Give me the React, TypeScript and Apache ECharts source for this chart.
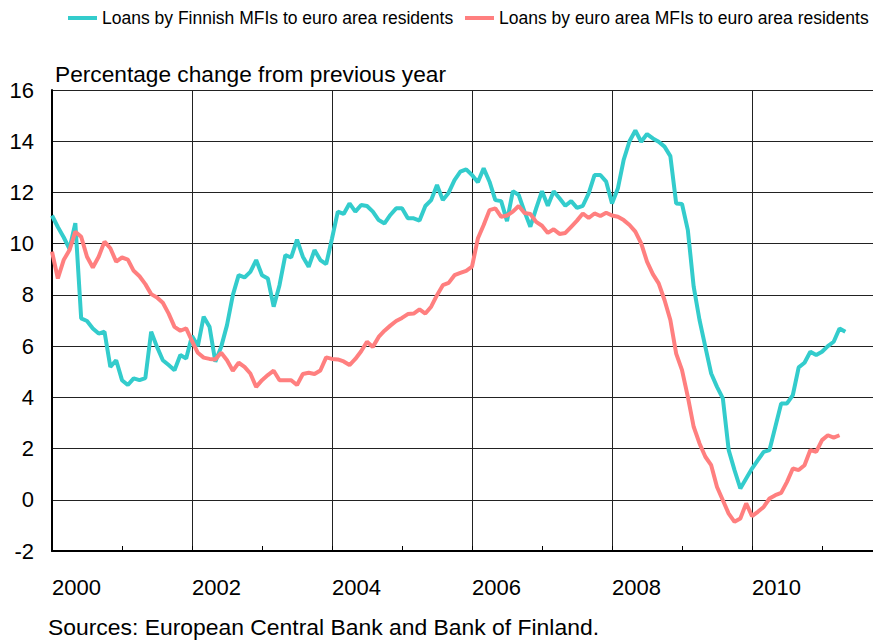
import { useEffect, useRef } from 'react';
import * as echarts from 'echarts';

// x index = months since Dec 1999 (0 = Dec 1999, 1 = Jan 2000, ...)
const yearLabels = ['2000', '2002', '2004', '2006', '2008', '2010'];
const seriesNames = [
  'Loans by Finnish MFIs to euro area residents',
  'Loans by euro area MFIs to euro area residents',
];
const axisTitle = 'Percentage change from previous year';
const sourceNote = 'Sources: European Central Bank and Bank of Finland.';

const finnishLoans = [
  11.1, 10.65, 10.25, 9.8, 10.8, 7.08, 6.98, 6.69, 6.49, 6.56, 5.19, 5.45,
  4.67, 4.48, 4.74, 4.67, 4.75, 6.56, 5.97, 5.45, 5.26, 5.06, 5.65, 5.52,
  6.39, 6.0, 7.15, 6.76, 5.39, 5.97, 6.82, 7.99, 8.77, 8.68, 8.9, 9.36,
  8.77, 8.64, 7.54, 8.38, 9.55, 9.46, 10.16, 9.49, 9.1, 9.75, 9.36, 9.2,
  10.2, 11.25, 11.16, 11.57, 11.25, 11.51, 11.47, 11.25, 10.92, 10.79, 11.12, 11.38,
  11.38, 10.99, 10.99, 10.9, 11.47, 11.7, 12.29, 11.7, 11.99, 12.48, 12.81, 12.9,
  12.68, 12.4, 12.94, 12.42, 11.7, 11.66, 10.88, 12.05, 11.9, 11.25, 10.66, 11.38,
  12.05, 11.48, 12.05, 11.77, 11.48, 11.66, 11.4, 11.48, 11.96, 12.68, 12.68, 12.42,
  11.57, 12.15, 13.27, 14.0, 14.42, 13.98, 14.28, 14.11, 13.98, 13.79, 13.42, 11.57,
  11.55, 10.53, 8.32, 7.02, 5.97, 4.93, 4.41, 3.96, 1.94, 1.16, 0.44, 0.83,
  1.22, 1.55, 1.87, 1.94, 2.85, 3.76, 3.76, 4.09, 5.17, 5.35, 5.78, 5.65,
  5.78, 6.0, 6.17, 6.69, 6.56,
];

const euroAreaLoans = [
  9.69, 8.64, 9.36, 9.75, 10.47, 10.27, 9.49, 9.07, 9.49, 10.08, 9.82, 9.3,
  9.46, 9.38, 8.94, 8.73, 8.42, 8.03, 7.9, 7.69, 7.27, 6.75, 6.6, 6.69,
  6.2, 5.74, 5.55, 5.5, 5.48, 5.74, 5.45, 5.04, 5.35, 5.19, 4.93, 4.41,
  4.67, 4.87, 5.04, 4.67, 4.67, 4.67, 4.48, 4.91, 4.96, 4.91, 5.05, 5.56,
  5.5, 5.48, 5.4, 5.26, 5.5, 5.8, 6.17, 5.97, 6.36, 6.6, 6.8, 6.98,
  7.1, 7.25, 7.27, 7.43, 7.27, 7.54, 7.99, 8.38, 8.47, 8.77, 8.86, 8.94,
  9.1, 10.2, 10.73, 11.31, 11.38, 11.05, 11.1, 11.25, 11.47, 11.2, 11.16, 10.85,
  10.7, 10.42, 10.56, 10.38, 10.42, 10.66, 10.9, 11.18, 11.0, 11.18, 11.08, 11.21,
  11.1, 11.05, 10.92, 10.73, 10.47, 10.01, 9.3, 8.81, 8.45, 7.8, 7.02, 5.71,
  5.06, 4.02, 2.85, 2.2, 1.68, 1.35, 0.5, -0.02, -0.54, -0.86, -0.73, -0.14,
  -0.64, -0.47, -0.28, 0.05, 0.18, 0.27, 0.7, 1.22, 1.16, 1.35, 1.94, 1.87,
  2.33, 2.52, 2.43, 2.52,
];

const TEAL = '#33CCCC';
const SALMON = '#FF7F7F';
const FONT = '"Liberation Sans", Arial, sans-serif';

export default function App() {
  const ref = useRef<HTMLDivElement>(null);

  useEffect(() => {
    if (!ref.current) return;
    const chart = echarts.init(ref.current, null, { renderer: 'svg' });
    const legendBase = {
      top: 8,
      padding: 0,
      icon: 'rect',
      itemWidth: 29,
      itemHeight: 4,
      selectedMode: false,
      textStyle: { fontSize: 17.5, color: '#000', fontFamily: FONT, lineHeight: 20 },
    };
    chart.setOption({
      animation: false,
      backgroundColor: '#ffffff',
      textStyle: { fontFamily: FONT },
      title: [
        {
          text: axisTitle,
          left: 55,
          top: 61,
          padding: 0,
          textStyle: { fontSize: 22.7, fontWeight: 'normal', color: '#000', fontFamily: FONT, lineHeight: 26 },
        },
        {
          text: sourceNote,
          left: 48,
          top: 614,
          padding: 0,
          textStyle: { fontSize: 22.9, fontWeight: 'normal', color: '#000', fontFamily: FONT, lineHeight: 26 },
        },
      ],
      legend: [
        { ...legendBase, left: 68, data: [seriesNames[0]] },
        { ...legendBase, left: 465, data: [seriesNames[1]] },
      ],
      grid: { left: 52, top: 90, right: 0, height: 461, containLabel: false },
      xAxis: {
        type: 'value',
        min: 0,
        max: 140.74,
        interval: 24,
        axisLine: { show: true, onZero: false, lineStyle: { color: '#000', width: 2 } },
        axisTick: { show: true, inside: true, length: 5, lineStyle: { color: '#000', width: 1 } },
        minorTick: { show: true, splitNumber: 2, length: 5, lineStyle: { color: '#000', width: 1 } },
        splitLine: { show: true, lineStyle: { color: '#222', width: 1 } },
        axisLabel: {
          formatter: (v: number) => (v % 24 === 0 && v < 140 ? yearLabels[v / 24] : ''),
          align: 'left',
          margin: 23,
          fontSize: 22,
          lineHeight: 26,
          color: '#000',
          fontFamily: FONT,
          showMaxLabel: false,
        },
      },
      yAxis: {
        type: 'value',
        min: -2,
        max: 16,
        interval: 2,
        axisLine: { show: true, lineStyle: { color: '#000', width: 2 } },
        axisTick: { show: false },
        splitLine: { show: true, lineStyle: { color: '#222', width: 1 } },
        axisLabel: { margin: 18, fontSize: 22, color: '#000', fontFamily: FONT },
      },
      series: [
        {
          name: seriesNames[0],
          type: 'line',
          color: TEAL,
          showSymbol: false,
          symbol: 'none',
          lineStyle: { width: 4, color: TEAL },
          data: finnishLoans.map((v, i) => [i, v]),
        },
        {
          name: seriesNames[1],
          type: 'line',
          color: SALMON,
          showSymbol: false,
          symbol: 'none',
          lineStyle: { width: 4, color: SALMON },
          data: euroAreaLoans.map((v, i) => [i, v]),
        },
      ],
    });
    return () => chart.dispose();
  }, []);

  return (
    <div
      ref={ref}
      style={{ position: 'absolute', left: 0, top: 0, width: 873, height: 642, background: '#fff' }}
    />
  );
}
